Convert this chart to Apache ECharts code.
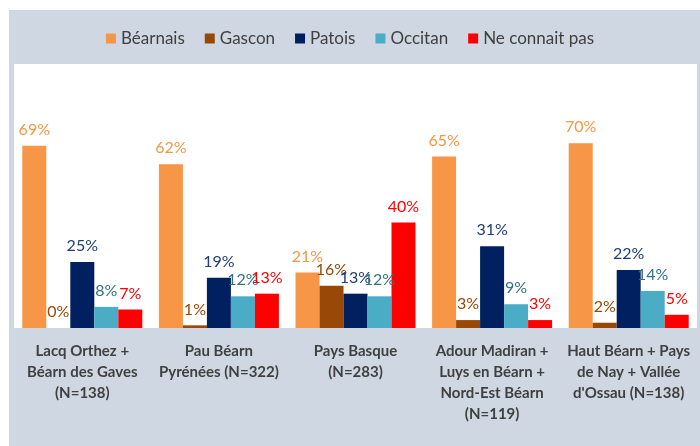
<!DOCTYPE html>
<html>
<head>
<meta charset="utf-8">
<script src="https://cdn.jsdelivr.net/npm/echarts@6/dist/echarts.min.js"></script>
<style>
  html, body { margin: 0; padding: 0; background: #fff; }
  #chart { width: 700px; height: 446px; }
</style>
</head>
<body>
<div id="chart"></div>
<script>
var categories = [
    'Lacq Orthez +\nBéarn des Gaves\n(N=138)',
    'Pau Béarn\nPyrénées (N=322)',
    'Pays Basque\n(N=283)',
    'Adour Madiran +\nLuys en Béarn +\nNord-Est Béarn\n(N=119)',
    'Haut Béarn + Pays\nde Nay + Vallée\nd\'Ossau (N=138)'
];
var bearnais = [69, 62, 21, 65, 70];
var gascon = [0, 1, 16, 3, 2];
var patois = [25, 19, 13, 31, 22];
var occitan = [8, 12, 12, 9, 14];
var neConnaitPas = [7, 13, 40, 3, 5];

var font = 'Lato';

function mkSeries(name, data, color, labelColor) {
    return {
        name: name,
        type: 'bar',
        barWidth: 24,
        barGap: '0%',
        data: data,
        itemStyle: { color: color },
        label: {
            show: true,
            position: 'top',
            distance: 8,
            formatter: '{c}%',
            color: labelColor,
            fontSize: 16,
            fontFamily: font
        }
    };
}

var myChart = echarts.init(document.getElementById('chart'));
var option = {
    backgroundColor: '#fff',
    animation: false,
    graphic: [{
        type: 'rect',
        z: -10,
        shape: { x: 9, y: 10, width: 691, height: 436 },
        style: { fill: '#cfd8e2' }
    }],
    legend: {
        top: 25,
        left: 'center',
        itemWidth: 10,
        itemHeight: 10,
        itemGap: 20,
        icon: 'rect',
        textStyle: { fontSize: 17, color: '#404040', fontFamily: font },
        data: ['Béarnais', 'Gascon', 'Patois', 'Occitan', 'Ne connait pas']
    },
    grid: {
        left: 14,
        right: 3,
        top: 64,
        bottom: 118,
        show: true,
        backgroundColor: '#fff',
        borderWidth: 0
    },
    xAxis: {
        type: 'category',
        data: categories,
        axisLine: { show: false },
        axisTick: { show: false },
        axisLabel: {
            interval: 0,
            margin: 13,
            fontSize: 15,
            fontWeight: 'bold',
            lineHeight: 21,
            color: '#404040',
            fontFamily: font
        }
    },
    yAxis: {
        type: 'value',
        min: 0,
        max: 100,
        show: false
    },
    series: [
        mkSeries('Béarnais', bearnais, '#f79646', '#f79646'),
        mkSeries('Gascon', gascon, '#984807', '#984807'),
        mkSeries('Patois', patois, '#002060', '#1f3d7a'),
        mkSeries('Occitan', occitan, '#4bacc6', '#31707f'),
        mkSeries('Ne connait pas', neConnaitPas, '#ff0000', '#ff0000')
    ]
};
myChart.setOption(option);
</script>
</body>
</html>
